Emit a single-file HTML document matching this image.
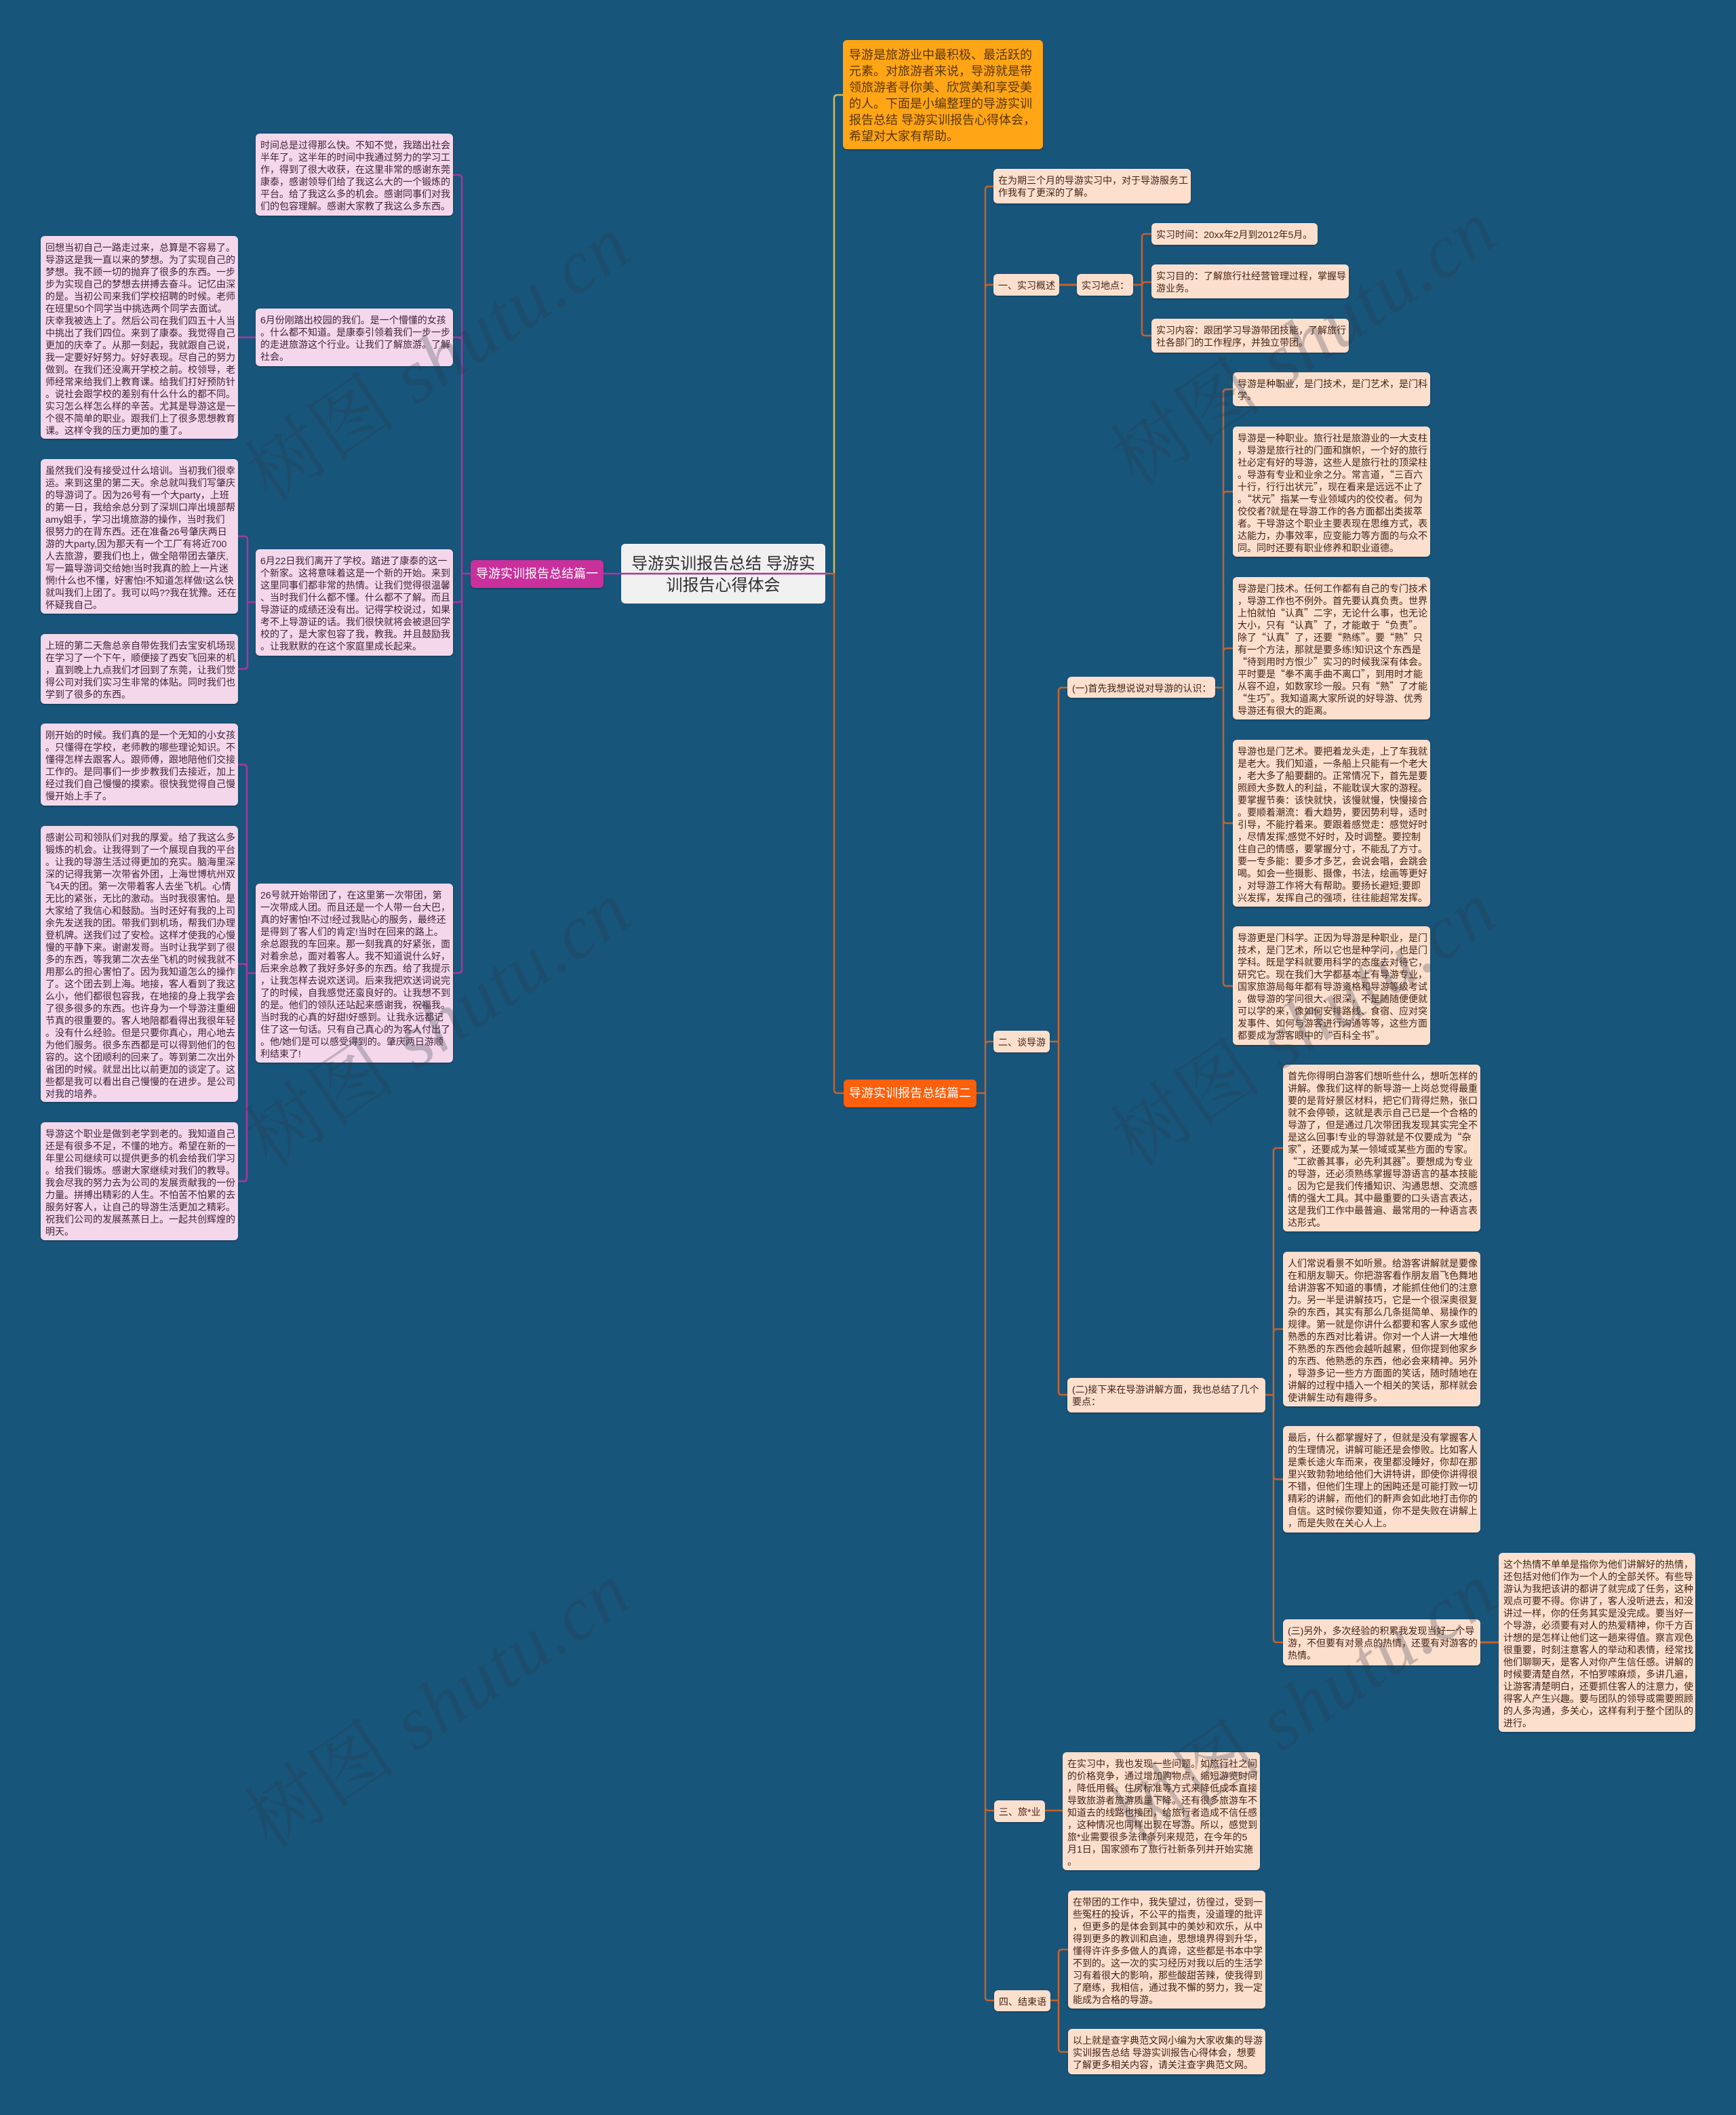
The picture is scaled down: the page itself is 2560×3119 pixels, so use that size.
<!DOCTYPE html>
<html lang="zh-CN">
<head>
<meta charset="utf-8">
<title>导游实训报告总结 导游实训报告心得体会</title>
<style>
html,body{margin:0;padding:0;background:#18557b;}
#c{position:relative;width:2560px;height:3119px;overflow:hidden;background:#18557b;font-family:"Liberation Sans","Noto Sans CJK SC",sans-serif;}
.n{position:absolute;box-sizing:border-box;font-size:14px;line-height:18px;padding:8px 0 0 7px;border-radius:6px;white-space:nowrap;box-shadow:0 1px 2px rgba(0,0,0,.35);}
.p{background:#f4d7eb;color:#3f2339;}
.o{background:#fddfce;color:#432415;}
.q{font-family:"Noto Sans CJK SC","Liberation Sans",sans-serif;}
.b{text-align:center;color:#fff;font-size:18px;line-height:41px;padding:0;}
svg{position:absolute;left:0;top:0;}
.w{position:absolute;font-size:112px;line-height:130px;white-space:nowrap;color:rgba(45,55,75,.27);font-family:"Liberation Serif","Noto Serif CJK SC",serif;transform:translate(-50%,-50%) rotate(-34deg);letter-spacing:2px;}
.w i{font-style:italic;}
</style>
</head>
<body>
<div id="c">

<div class="n p" style="left:377px;top:197px;width:291px;height:121px;">时间总是过得那么快。不知不觉，我踏出社会<br>半年了。这半年的时间中我通过努力的学习工<br>作，得到了很大收获，在这里非常的感谢东莞<br>康泰，感谢领导们给了我这么大的一个锻炼的<br>平台。给了我这么多的机会。感谢同事们对我<br>们的包容理解。感谢大家教了我这么多东西。</div>

<div class="n p" style="left:60px;top:348px;width:291px;height:299px;">回想当初自己一路走过来，总算是不容易了。<br>导游这是我一直以来的梦想。为了实现自己的<br>梦想。我不顾一切的抛弃了很多的东西。一步<br>步为实现自己的梦想去拼搏去奋斗。记忆由深<br>的是。当初公司来我们学校招聘的时候。老师<br>在班里50个同学当中挑选两个同学去面试。<br>庆幸我被选上了。然后公司在我们四五十人当<br>中挑出了我们四位。来到了康泰。我觉得自己<br>更加的庆幸了。从那一刻起，我就跟自己说，<br>我一定要好好努力。好好表现。尽自己的努力<br>做到。在我们还没离开学校之前。校领导，老<br>师经常来给我们上教育课。给我们打好预防针<br>。说社会跟学校的差别有什么什么的都不同。<br>实习怎么样怎么样的辛苦。尤其是导游这是一<br>个很不简单的职业。跟我们上了很多思想教育<br>课。这样令我的压力更加的重了。</div>

<div class="n p" style="left:377px;top:455px;width:291px;height:85px;">6月份刚踏出校园的我们。是一个懵懂的女孩<br>。什么都不知道。是康泰引领着我们一步一步<br>的走进旅游这个行业。让我们了解旅游。了解<br>社会。</div>

<div class="n p" style="left:60px;top:677px;width:291px;height:228px;">虽然我们没有接受过什么培训。当初我们很幸<br>运。来到这里的第二天。余总就叫我们写肇庆<br>的导游词了。因为26号有一个大party，上班<br>的第一日，我给余总分到了深圳口岸出境部帮<br>amy姐手，学习出境旅游的操作，当时我们<br>很努力的在背东西。还在准备26号肇庆两日<br>游的大party,因为那天有一个工厂有将近700<br>人去旅游，要我们也上，做全陪带团去肇庆,<br>写一篇导游词交给她!当时我真的脸上一片迷<br>惘!什么也不懂，好害怕!不知道怎样做!这么快<br>就叫我们上团了。我可以吗??我在犹豫。还在<br>怀疑我自己。</div>

<div class="n p" style="left:60px;top:935px;width:291px;height:103px;">上班的第二天詹总亲自带佐我们去宝安机场现<br>在学习了一个下午，顺便接了西安飞回来的机<br>，直到晚上九点我们才回到了东莞，让我们觉<br>得公司对我们实习生非常的体贴。同时我们也<br>学到了很多的东西。</div>

<div class="n p" style="left:377px;top:810px;width:291px;height:157px;">6月22日我们离开了学校。踏进了康泰的这一<br>个新家。这将意味着这是一个新的开始。来到<br>这里同事们都非常的热情。让我们觉得很温馨<br>、当时我们什么都不懂。什么都不了解。而且<br>导游证的成绩还没有出。记得学校说过，如果<br>考不上导游证的话。我们很快就将会被退回学<br>校的了，是大家包容了我，教我。并且鼓励我<br>。让我默默的在这个家庭里成长起来。</div>

<div class="n p" style="left:60px;top:1067px;width:291px;height:121px;">刚开始的时候。我们真的是一个无知的小女孩<br>。只懂得在学校，老师教的哪些理论知识。不<br>懂得怎样去跟客人。跟师傅，跟地陪他们交接<br>工作的。是同事们一步步教我们去接近，加上<br>经过我们自己慢慢的摸索。很快我觉得自己慢<br>慢开始上手了。</div>

<div class="n p" style="left:60px;top:1218px;width:291px;height:407px;">感谢公司和领队们对我的厚爱。给了我这么多<br>锻炼的机会。让我得到了一个展现自我的平台<br>。让我的导游生活过得更加的充实。脑海里深<br>深的记得我第一次带省外团，上海世博杭州双<br>飞4天的团。第一次带着客人去坐飞机。心情<br>无比的紧张，无比的激动。当时我很害怕。是<br>大家给了我信心和鼓励。当时还好有我的上司<br>余先发送我的团。带我们到机场，帮我们办理<br>登机牌。送我们过了安检。这样才使我的心慢<br>慢的平静下来。谢谢发哥。当时让我学到了很<br>多的东西，等我第二次去坐飞机的时候我就不<br>用那么的担心害怕了。因为我知道怎么的操作<br>了。这个团去到上海。地接，客人看到了我这<br>么小，他们都很包容我，在地接的身上我学会<br>了很多很多的东西。也许身为一个导游注重细<br>节真的很重要的。客人地陪都看得出我很年轻<br>。没有什么经验。但是只要你真心，用心地去<br>为他们服务。很多东西都是可以得到他们的包<br>容的。这个团顺利的回来了。等到第二次出外<br>省团的时候。就显出比以前更加的谈定了。这<br>些都是我可以看出自己慢慢的在进步。是公司<br>对我的培养。</div>

<div class="n p" style="left:60px;top:1655px;width:291px;height:174px;">导游这个职业是做到老学到老的。我知道自己<br>还是有很多不足，不懂的地方。希望在新的一<br>年里公司继续可以提供更多的机会给我们学习<br>。给我们锻炼。感谢大家继续对我们的教导。<br>我会尽我的努力去为公司的发展贡献我的一份<br>力量。拼搏出精彩的人生。不怕苦不怕累的去<br>服务好客人，让自己的导游生活更加之精彩。<br>祝我们公司的发展蒸蒸日上。一起共创辉煌的<br>明天。</div>

<div class="n p" style="left:377px;top:1303px;width:291px;height:264px;">26号就开始带团了，在这里第一次带团，第<br>一次带成人团。而且还是一个人带一台大巴，<br>真的好害怕!不过!经过我贴心的服务，最终还<br>是得到了客人们的肯定!当时在回来的路上。<br>余总跟我的车回来。那一刻我真的好紧张，面<br>对着余总，面对着客人。我不知道说什么好，<br>后来余总教了我好多好多的东西。给了我提示<br>，让我怎样去说欢送词。后来我把欢送词说完<br>了的时候，自我感觉还蛮良好的。让我想不到<br>的是。他们的领队还站起来感谢我，祝福我。<br>当时我的心真的好甜!好感到。让我永远都记<br>住了这一句话。只有自己真心的为客人付出了<br>。他/她们是可以感受得到的。肇庆两日游顺<br>利结束了!</div>

<div class="n b" style="left:694px;top:826px;width:196px;height:41px;background:#c9309b;">导游实训报告总结篇一</div>

<div class="n" style="left:916px;top:802px;width:301px;height:88px;background:#f0f0f0;color:#2e2e2e;font-size:24px;line-height:32px;padding:14px 0 0 0;text-align:center;box-shadow:none;">导游实训报告总结 导游实<br>训报告心得体会</div>

<div class="n" style="left:1243px;top:59px;width:295px;height:161px;background:#ffa516;color:#5a3608;font-size:18px;line-height:24px;padding:10px 0 0 9px;">导游是旅游业中最积极、最活跃的<br>元素。对旅游者来说，导游就是带<br>领旅游者寻你美、欣赏美和享受美<br>的人。下面是小编整理的导游实训<br>报告总结 导游实训报告心得体会，<br>希望对大家有帮助。</div>

<div class="n b" style="left:1244px;top:1592px;width:196px;height:41px;background:#fe5f0b;">导游实训报告总结篇二</div>

<div class="n o" style="left:1465px;top:249px;width:291px;height:51px;">在为期三个月的导游实习中，对于导游服务工<br>作我有了更深的了解。</div>
<div class="n o" style="left:1465px;top:404px;width:97px;height:32px;">一、实习概述</div>
<div class="n o" style="left:1588px;top:404px;width:83px;height:32px;">实习地点：</div>
<div class="n o" style="left:1698px;top:329px;width:245px;height:32px;">实习时间：20xx年2月到2012年5月。</div>
<div class="n o" style="left:1698px;top:390px;width:291px;height:50px;">实习目的：了解旅行社经营管理过程，掌握导<br>游业务。</div>
<div class="n o" style="left:1698px;top:470px;width:291px;height:50px;">实习内容：跟团学习导游带团技能，了解旅行<br>社各部门的工作程序，并独立带团。</div>

<div class="n o" style="left:1818px;top:549px;width:291px;height:50px;">导游是种职业，是门技术，是门艺术，是门科<br>学。</div>
<div class="n o q" style="left:1818px;top:629px;width:291px;height:192px;">导游是一种职业。旅行社是旅游业的一大支柱<br>，导游是旅行社的门面和旗帜，一个好的旅行<br>社必定有好的导游，这些人是旅行社的顶梁柱<br>。导游有专业和业余之分。常言道，“三百六<br>十行，行行出状元”，现在看来是远远不止了<br>。“状元”指某一专业领域内的佼佼者。何为<br>佼佼者?就是在导游工作的各方面都出类拔萃<br>者。干导游这个职业主要表现在思维方式，表<br>达能力，办事效率，应变能力等方面的与众不<br>同。同时还要有职业修养和职业道德。</div>
<div class="n o q" style="left:1818px;top:851px;width:291px;height:210px;">导游是门技术。任何工作都有自己的专门技术<br>，导游工作也不例外。首先要认真负责。世界<br>上怕就怕“认真”二字，无论什么事，也无论<br>大小，只有“认真”了，才能敢于“负责”。<br>除了“认真”了，还要“熟练”。要“熟”只<br>有一个方法，那就是要多练!知识这个东西是<br>“待到用时方恨少”实习的时候我深有体会。<br>平时要是“拳不离手曲不离口”，到用时才能<br>从容不迫，如数家珍一般。只有“熟”了才能<br>“生巧”。我知道离大家所说的好导游、优秀<br>导游还有很大的距离。</div>
<div class="n o" style="left:1574px;top:998px;width:218px;height:31px;">(一)首先我想说说对导游的认识：</div>
<div class="n o" style="left:1818px;top:1091px;width:291px;height:246px;">导游也是门艺术。要把着龙头走，上了车我就<br>是老大。我们知道，一条船上只能有一个老大<br>，老大多了船要翻的。正常情况下，首先是要<br>照顾大多数人的利益，不能耽误大家的游程。<br>要掌握节奏：该快就快，该慢就慢，快慢接合<br>。要顺着潮流：看大趋势，要因势利导，适时<br>引导，不能拧着来。要跟着感觉走：感觉好时<br>，尽情发挥;感觉不好时，及时调整。要控制<br>住自己的情感，要掌握分寸，不能乱了方寸。<br>要一专多能：要多才多艺，会说会唱，会跳会<br>喝。如会一些摄影、摄像，书法，绘画等更好<br>，对导游工作将大有帮助。要扬长避短;要即<br>兴发挥，发挥自己的强项，往往能超常发挥。</div>
<div class="n o q" style="left:1818px;top:1366px;width:291px;height:175px;">导游更是门科学。正因为导游是种职业，是门<br>技术，是门艺术，所以它也是种学问，也是门<br>学科。既是学科就要用科学的态度去对待它，<br>研究它。现在我们大学都基本上有导游专业，<br>国家旅游局每年都有导游资格和导游等级考试<br>。做导游的学问很大、很深，不是随随便便就<br>可以学的来，像如何安排路线、食宿、应对突<br>发事件、如何与游客进行沟通等等，这些方面<br>都要成为游客眼中的“百科全书”。</div>

<div class="n o" style="left:1465px;top:1520px;width:83px;height:32px;">二、谈导游</div>

<div class="n o q" style="left:1892px;top:1570px;width:291px;height:246px;">首先你得明白游客们想听些什么，想听怎样的<br>讲解。像我们这样的新导游一上岗总觉得最重<br>要的是背好景区材料，把它们背得烂熟，张口<br>就不会停顿，这就是表示自己已是一个合格的<br>导游了，但是通过几次带团我发现其实完全不<br>是这么回事!专业的导游就是不仅要成为“杂<br>家”，还要成为某一领域或某些方面的专家。<br>“工欲善其事，必先利其器”。要想成为专业<br>的导游，还必须熟练掌握导游语言的基本技能<br>。因为它是我们传播知识、沟通思想、交流感<br>情的强大工具。其中最重要的口头语言表达，<br>这是我们工作中最普遍、最常用的一种语言表<br>达形式。</div>
<div class="n o" style="left:1892px;top:1846px;width:291px;height:228px;">人们常说看景不如听景。给游客讲解就是要像<br>在和朋友聊天。你把游客看作朋友眉飞色舞地<br>给讲游客不知道的事情，才能抓住他们的注意<br>力。另一半是讲解技巧，它是一个很深奥很复<br>杂的东西，其实有那么几条挺简单、易操作的<br>规律。第一就是你讲什么都要和客人家乡或他<br>熟悉的东西对比着讲。你对一个人讲一大堆他<br>不熟悉的东西他会越听越累，但你提到他家乡<br>的东西、他熟悉的东西，他必会来精神。另外<br>，导游多记一些方方面面的笑话，随时随地在<br>讲解的过程中插入一个相关的笑话，那样就会<br>使讲解生动有趣得多。</div>
<div class="n o" style="left:1574px;top:2032px;width:292px;height:51px;">(二)接下来在导游讲解方面，我也总结了几个<br>要点：</div>
<div class="n o" style="left:1892px;top:2103px;width:291px;height:157px;">最后，什么都掌握好了，但就是没有掌握客人<br>的生理情况，讲解可能还是会惨败。比如客人<br>是乘长途火车而来，夜里都没睡好，你却在那<br>里兴致勃勃地给他们大讲特讲，即使你讲得很<br>不错，但他们生理上的困盹还是可能打败一切<br>精彩的讲解，而他们的鼾声会如此地打击你的<br>自信。这时候你要知道，你不是失败在讲解上<br>，而是失败在关心人上。</div>
<div class="n o" style="left:1892px;top:2388px;width:291px;height:68px;">(三)另外，多次经验的积累我发现当好一个导<br>游，不但要有对景点的热情，还要有对游客的<br>热情。</div>
<div class="n o" style="left:2210px;top:2290px;width:290px;height:264px;">这个热情不单单是指你为他们讲解好的热情，<br>还包括对他们作为一个人的全部关怀。有些导<br>游认为我把该讲的都讲了就完成了任务，这种<br>观点可要不得。你讲了，客人没听进去，和没<br>讲过一样，你的任务其实是没完成。要当好一<br>个导游，必须要有对人的热爱精神，你千方百<br>计想的是怎样让他们这一趟来得值。察言观色<br>很重要，时刻注意客人的举动和表情，经常找<br>他们聊聊天，是客人对你产生信任感。讲解的<br>时候要清楚自然，不怕罗嗦麻烦，多讲几遍，<br>让游客清楚明白，还要抓住客人的注意力，使<br>得客人产生兴趣。要与团队的领导或需要照顾<br>的人多沟通，多关心，这样有利于整个团队的<br>进行。</div>

<div class="n o" style="left:1466px;top:2655px;width:75px;height:32px;">三、旅*业</div>
<div class="n o" style="left:1567px;top:2584px;width:291px;height:174px;">在实习中，我也发现一些问题。如旅行社之间<br>的价格竞争，通过增加购物点，缩短游览时间<br>，降低用餐、住房标准等方式来降低成本直接<br>导致旅游者旅游质量下降。还有很多旅游车不<br>知道去的线路也接团，给旅行者造成不信任感<br>，这种情况也同样出现在导游。所以，感觉到<br>旅*业需要很多法律条列来规范，在今年的5<br>月1日，国家颁布了旅行社新条列并开始实施<br>。</div>
<div class="n o" style="left:1466px;top:2935px;width:83px;height:31px;">四、结束语</div>
<div class="n o" style="left:1575px;top:2788px;width:291px;height:174px;">在带团的工作中，我失望过，彷徨过，受到一<br>些冤枉的投诉，不公平的指责，没道理的批评<br>，但更多的是体会到其中的美妙和欢乐，从中<br>得到更多的教训和启迪，思想境界得到升华，<br>懂得许许多多做人的真谛，这些都是书本中学<br>不到的。这一次的实习经历对我以后的生活学<br>习有着很大的影响，那些酸甜苦辣，使我得到<br>了磨练，我相信，通过我不懈的努力，我一定<br>能成为合格的导游。</div>
<div class="n o" style="left:1575px;top:2992px;width:291px;height:67px;">以上就是查字典范文网小编为大家收集的导游<br>实训报告总结 导游实训报告心得体会，想要<br>了解更多相关内容，请关注查字典范文网。</div>

<svg width="2560" height="3119" viewBox="0 0 2560 3119" fill="none" stroke-width="2.500">
  <g stroke="#a8379b">
    <path d="M890 846H1217"/>
    <path d="M694 846H681"/>
    <path d="M668 258H676Q681 258 681 263V1430Q681 1435 676 1435H668"/>
    <path d="M681 502.500Q681 497.500 676 497.500H668"/>
    <path d="M681 883Q681 888 676 888H668"/>
    <path d="M351 497.500H377"/>
    <path d="M351 791H360Q365 791 365 796V981.500Q365 986.500 360 986.500H351"/>
    <path d="M377 888H365"/>
    <path d="M351 1127.500H359Q364 1127.500 364 1132.500V1737Q364 1742 359 1742H351"/>
    <path d="M351 1421.500H359Q364 1421.500 364 1426.500"/>
    <path d="M377 1435H364"/>
  </g>
  <path stroke="#d2bb58" d="M1230 846V145Q1230 140 1235 140H1243"/>
  <g stroke="#c4622d">
    <path d="M1217 846H1230V1607Q1230 1612 1235 1612H1244"/>
    <path d="M1440 1612H1453"/>
    <path d="M1465 275H1458Q1453 275 1453 280V2945Q1453 2950 1458 2950H1466"/>
    <path d="M1453 425Q1453 420 1458 420H1465"/>
    <path d="M1453 1541Q1453 1536 1458 1536H1465"/>
    <path d="M1453 2665Q1453 2670 1458 2670H1466"/>
    <path d="M1562 420H1588" stroke-width="3"/>
    <path d="M1671 420H1684"/>
    <path d="M1698 345H1689Q1684 345 1684 350V490Q1684 495 1689 495H1698"/>
    <path d="M1684 421Q1684 416 1689 416H1698"/>
    <path d="M1574 1014H1566Q1561 1014 1561 1019V2052Q1561 2057 1566 2057H1574"/>
    <path d="M1548 1536H1561"/>
    <path d="M1818 574H1809Q1804 574 1804 579V1449Q1804 1454 1809 1454H1818"/>
    <path d="M1792 1014H1804"/>
    <path d="M1804 730Q1804 725 1809 725H1818"/>
    <path d="M1804 961Q1804 956 1809 956H1818"/>
    <path d="M1804 1209Q1804 1214 1809 1214H1818"/>
    <path d="M1892 1693H1883Q1878 1693 1878 1698V2417Q1878 2422 1883 2422H1892"/>
    <path d="M1866 2057H1878"/>
    <path d="M1878 1965Q1878 1960 1883 1960H1892"/>
    <path d="M1878 2176.500Q1878 2181.500 1883 2181.500H1892"/>
    <path d="M2183 2422H2210" stroke-width="3"/>
    <path d="M1541 2670H1567"/>
    <path d="M1575 2875H1566Q1561 2875 1561 2880V3021Q1561 3026 1566 3026H1575"/>
    <path d="M1549 2950H1561"/>
  </g>
</svg>

<div class="w" style="left:647px;top:530px;">树图 <i>shutu.cn</i></div>
<div class="w" style="left:1924px;top:507px;">树图 <i>shutu.cn</i></div>
<div class="w" style="left:647px;top:1511px;">树图 <i>shutu.cn</i></div>
<div class="w" style="left:1924px;top:1511px;">树图 <i>shutu.cn</i></div>
<div class="w" style="left:647px;top:2516px;">树图 <i>shutu.cn</i></div>
<div class="w" style="left:1924px;top:2516px;">树图 <i>shutu.cn</i></div>

</div>
</body>
</html>
